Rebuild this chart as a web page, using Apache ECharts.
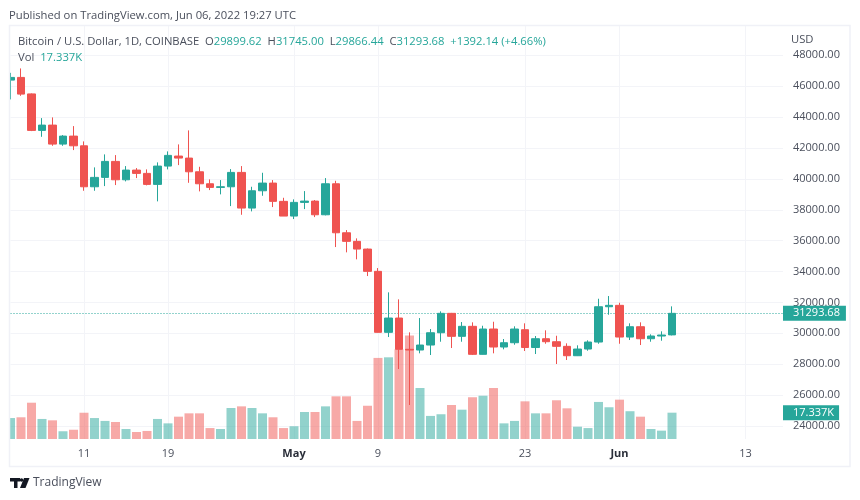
<!DOCTYPE html>
<html>
<head>
<meta charset="utf-8">
<style>html,body{margin:0;padding:0;background:#fff}#main{width:860px;height:500px}</style>
<script src="https://cdn.jsdelivr.net/npm/echarts@6/dist/echarts.min.js"></script>
</head>
<body>
<div id="main"></div>
<script>
var days = ['Apr 4','Apr 5','Apr 6','Apr 7','Apr 8','Apr 9','Apr 10','Apr 11','Apr 12','Apr 13','Apr 14','Apr 15','Apr 16','Apr 17','Apr 18','Apr 19','Apr 20','Apr 21','Apr 22','Apr 23','Apr 24','Apr 25','Apr 26','Apr 27','Apr 28','Apr 29','Apr 30',
  'May 1','May 2','May 3','May 4','May 5','May 6','May 7','May 8','May 9','May 10','May 11','May 12','May 13','May 14','May 15','May 16','May 17','May 18','May 19','May 20','May 21','May 22','May 23','May 24','May 25','May 26','May 27','May 28','May 29','May 30','May 31',
  'Jun 1','Jun 2','Jun 3','Jun 4','Jun 5','Jun 6','Jun 7','Jun 8','Jun 9','Jun 10','Jun 11','Jun 12','Jun 13','Jun 14','Jun 15','Jun 16','Jun 17'];
var tickDays = ['Apr 11','Apr 19','May 1','May 9','May 23','Jun 1','Jun 13'];
var tickLabels = ['11','19','May','9','23','Jun','13'];

var opens = [46393,46568,45500,43138,43481,42251,42769,42141,39488,40096,
  41131,39941,40568,40355,39643,40827,41477,41345,40458,39682,
  39449,39488,40419,38109,39229,39727,38543,37591,38478,38560,
  37675,39682,36510,35954,35455,34012,30064,30990,28964,28919,
  29242,30038,31294,29805,30453,28640,30278,29113,29391,30233,
  29081,29650,29456,29158,28550,28983,29436,31721,31812,29760,
  30427,29650,29825,29899.62];
var closes = [46568,45487,43138,43481,42251,42769,42141,39488,40096,41131,
  39941,40568,40355,39643,40827,41520,41345,40458,39682,39449,
  39488,40419,38109,39229,39727,38543,37591,38478,38560,37675,
  39682,36510,35954,35455,34012,30064,30990,28964,28919,29242,
  30038,31294,29805,30453,28640,30278,29113,29391,30278,29081,
  29650,29456,29158,28550,28983,29436,31721,31812,29760,30427,
  29650,29825,29890,31293.68];
var lows = [45144,45377,43092,42723,42141,42141,41863,39229,39229,39533,
  39598,39837,40051,39578,38543,40614,40892,39746,39190,39274,
  38996,38238,37675,37895,38905,38174,37591,37397,38044,37526,
  37637,35585,35242,34789,33708,30050,29760,27689,25359,28705,
  28595,29456,29048,29456,28595,28630,28705,28964,29262,28854,
  28660,29326,28013,28272,28530,28873,29326,31203,29326,29566,
  29242,29456,29521,29866.44];
var highs = [46866,47150,45530,43934,43979,42834,43416,42426,40743,41584,
  41539,40827,40698,40614,41067,41779,42232,43138,40782,39966,
  39921,40633,40827,39488,40394,39921,38776,38672,39209,38627,
  40051,39876,36685,36148,35490,34226,32653,32200,30064,30990,
  30278,31423,31320,30731,30711,30491,30750,29631,30453,30647,
  29825,30194,29844,29352,29223,29547,32239,32414,31980,30647,
  30711,29935,30129,31745];
// volume in thousands
var volumes = [13.8,14.3,23.9,13.2,12.3,5.1,6.1,17.3,13.8,11.9,
  11.2,6.6,4.6,5.3,13.2,10.3,14.7,16.9,16.9,7.2,
  6.6,20.4,21.5,20.4,16.9,14.3,7.2,8.4,17.8,17.8,
  21.5,28.1,28.1,11.9,21.9,53.4,53.8,59.1,68.1,33.6,
  15.2,16.3,22.4,19.3,27.5,28.5,33.6,10.3,11.9,24.8,
  16.9,16.9,25.5,20.2,8.1,7.2,24.4,20.9,25.9,18.3,
  14.7,6.6,5.5,17.337];

var lastPrice = 31293.68, lastVolume = 17.337;
var UP = '#26a69a', DOWN = '#ef5350', TEXT = '#4a4f5c', GRID = '#f3f4f8';
var FONT = '"Open Sans", sans-serif';
var HEAD = 11.25;

var candles = opens.map(function (o, i) {
  return [o, closes[i], lows[i], highs[i]];
});
var volumeBars = volumes.map(function (v, i) {
  return { value: v, itemStyle: { color: closes[i] >= opens[i] ? 'rgba(38,166,154,0.5)' : 'rgba(239,83,80,0.5)' } };
});

function isTick(index, value) {
  return tickDays.indexOf(value) >= 0;
}

var myChart = echarts.init(document.getElementById('main'));
var option = {
  animation: false,
  backgroundColor: '#fff',
  textStyle: { fontFamily: FONT },
  title: [
    { text: 'Published on TradingView.com, Jun 06, 2022 19:27 UTC', left: 9, top: 10.5, padding: 0,
      textStyle: { fontFamily: FONT, fontSize: HEAD, fontWeight: 'normal', color: TEXT } },
    { text: 'Bitcoin / U.S. Dollar, 1D, COINBASE  {l|O}{v|29899.62}  {l|H}{v|31745.00}  {l|L}{v|29866.44}  {l|C}{v|31293.68}  {v|+1392.14 (+4.66%)}',
      left: 18, top: 36.5, padding: 0,
      textStyle: { fontFamily: FONT, fontSize: HEAD, fontWeight: 'normal', color: TEXT,
        rich: { l: { fontFamily: FONT, fontSize: HEAD, color: TEXT }, v: { fontFamily: FONT, fontSize: HEAD, color: UP } } } },
    { text: 'Vol  {v|17.337K}', left: 18, top: 52.5, padding: 0,
      textStyle: { fontFamily: FONT, fontSize: HEAD, fontWeight: 'normal', color: TEXT,
        rich: { v: { fontFamily: FONT, fontSize: HEAD, color: UP } } } },
    { text: 'USD', left: 791, top: 34.5, padding: 0,
      textStyle: { fontFamily: FONT, fontSize: HEAD, fontWeight: 'normal', color: TEXT } },
    { text: 'TradingView', left: 33, top: 477, padding: 0,
      textStyle: { fontFamily: FONT, fontSize: 12, fontWeight: 'normal', color: TEXT } }
  ],
  grid: [
    { left: 10.5, top: 26, width: 777, height: 413 },
    { left: 10.5, top: 55.3, width: 777, height: 370.7 }
  ],
  xAxis: [
    { type: 'category', gridIndex: 0, data: days, boundaryGap: false,
      axisLine: { show: false }, axisTick: { show: false },
      splitLine: { show: true, interval: isTick, lineStyle: { color: GRID, width: 1 } },
      axisLabel: { interval: isTick, margin: 9, fontFamily: FONT, fontSize: 11, color: TEXT,
        formatter: function (value) {
          var t = tickLabels[tickDays.indexOf(value)];
          return (t === 'May' || t === 'Jun') ? '{b|' + t + '}' : t;
        },
        rich: { b: { fontFamily: FONT, fontSize: 11, fontWeight: 'bold', color: '#2a2e39' } } } },
    { type: 'category', gridIndex: 1, data: days, boundaryGap: false, show: false }
  ],
  yAxis: [
    { type: 'value', gridIndex: 0, min: 0, max: 272, show: false, splitLine: { show: false } },
    { type: 'value', gridIndex: 1, position: 'right', min: 24000, max: 48000, interval: 2000,
      axisLine: { show: false }, axisTick: { show: false },
      splitLine: { show: true, lineStyle: { color: GRID, width: 1 } },
      axisLabel: { margin: 5.5, fontFamily: FONT, fontSize: 11, color: TEXT,
        formatter: function (v) { return v.toFixed(2); } } }
  ],
  graphic: [
    // hides the overshoot of the grid lines under the price scale, and the half bar left of the pane
    { type: 'rect', z: 1, shape: { x: 783, y: 26, width: 6, height: 414 }, style: { fill: '#fff' } },
    { type: 'rect', z: 8, shape: { x: 0, y: 26, width: 9.5, height: 414 }, style: { fill: '#fff' } },
    { type: 'rect', z: 9, shape: { x: 9.5, y: 25.5, width: 840.5, height: 441 },
      style: { fill: 'none', stroke: '#f0f1f7', lineWidth: 1.5 } },
    { type: 'rect', z: 10, shape: { x: 10, y: 478, width: 10, height: 3.5 }, style: { fill: '#131722' } },
    { type: 'rect', z: 10, shape: { x: 14, y: 478, width: 3.5, height: 10 }, style: { fill: '#131722' } },
    { type: 'circle', z: 10, shape: { cx: 21.5, cy: 480, r: 1.8 }, style: { fill: '#131722' } },
    { type: 'polygon', z: 10, shape: { points: [[24, 478], [29.5, 478], [25.5, 488], [20, 488]] }, style: { fill: '#131722' } }
  ],
  series: [
    { type: 'bar', name: 'Vol', xAxisIndex: 0, yAxisIndex: 0, z: 2, barWidth: 9, data: volumeBars,
      markLine: { silent: true, symbol: 'none', lineStyle: { color: 'transparent', width: 0 }, data: [{ yAxis: lastVolume }],
        label: { position: 'end', distance: -4.5, formatter: lastVolume.toFixed(3) + 'K',
          backgroundColor: UP, color: '#fff', fontFamily: FONT, fontSize: 11, padding: [2, 5, 2, 10] } } },
    { type: 'candlestick', name: 'BTCUSD', xAxisIndex: 1, yAxisIndex: 1, z: 5, barWidth: 8, data: candles,
      itemStyle: { color: UP, color0: DOWN, borderColor: UP, borderColor0: DOWN, borderWidth: 1 },
      markLine: { silent: true, symbol: 'none', lineStyle: { color: UP, type: [1, 2], width: 1 }, data: [{ yAxis: lastPrice }],
        label: { position: 'end', distance: -4.5, formatter: lastPrice.toFixed(2),
          backgroundColor: UP, color: '#fff', fontFamily: FONT, fontSize: 11, padding: [2, 6, 2, 10] } } }
  ]
};
myChart.setOption(option);
</script>
</body>
</html>
